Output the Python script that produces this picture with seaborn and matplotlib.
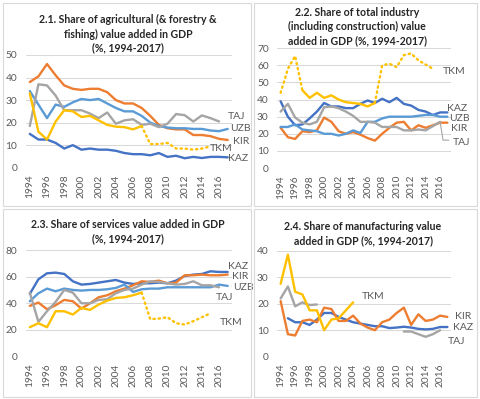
import matplotlib
matplotlib.use("Agg")
import matplotlib.pyplot as plt
import seaborn as sns
import pandas as pd
import numpy as np
from matplotlib.patches import Rectangle

sns.set_style("white")
plt.rcParams['font.family'] = ['Lato', 'DejaVu Sans']

N = None
years = list(range(1994, 2018))

# 2.1 agriculture
agr_kaz = [15, 12.5, 12.5, 11, 8.5, 10, 8, 8.5, 8, 8, 7.5, 6.5, 6, 6, 5.5, 6.5, 4.8, 5.3, 4.2, 4.8, 4.3, 4.8, 4.8, 4.6]
agr_kir = [38, 40.5, 46, 41, 36.5, 35, 34.5, 35, 35, 33.5, 30, 28.5, 28.5, 26.5, 23, 19, 17.5, 17, 17, 14.5, 14.5, 14, 12.8, 12.3]
agr_uzb = [34, 28, 22, 28, 27, 29, 30.5, 30, 30.5, 28.5, 26.5, 25, 25, 23, 20, 18.5, 17.8, 17.5, 17.5, 17.2, 17.2, 16.5, 16.2, 17.2]
agr_taj = [18.5, 37, 36.5, 32, 25.5, 25.5, 25.5, 24, 22, 24.5, 19.5, 21, 21.5, 19, 19.5, 18, 19.5, 23.8, 23.3, 20.5, 23.2, 22, 20.5, N]
agr_tkm = [33, 16, 12.5, 20.5, 25.5, 25, 22.5, 23, 21, 19, 18.2, 18, 17, 18.5, 10.5, 10.5, 11, 8.5, 8.5, 8, 8.5, 9.5, N, N]
agr_tkm_solid = (1994, 2007)

# 2.2 industry
ind_kaz = [39, 30, 25, 25.5, 29, 33, 38, 36, 36, 35, 35, 37.5, 39.5, 38, 40.5, 38.5, 41, 37.5, 36.5, 34, 33, 31, 32.5, 32.5]
ind_kir = [23.5, 18, 17, 21.5, 21, 22, 29.5, 27, 21.5, 20, 21, 19.5, 17.5, 16, 20, 23.5, 26.5, 27, 22, 25, 23.5, 25, 26.5, 26.5]
ind_uzb = [24, 24, 25.5, 22.5, 22, 21.5, 20, 20, 19, 20, 22, 20.5, 27, 27, 29, 30, 30, 30, 30, 30.5, 31, 31, 30, 30]
ind_taj = [33, 37.5, 29.5, 26.5, 25.5, 27, 35.5, 36, 35, 33, 30.5, 27, 27, 26.5, 24, 24, 24, 22, 22, 22.5, 22, 24.5, 27, N]
ind_tkm = [44, 58, 65.5, 45.5, 41, 44, 41, 42.5, 40, 38.5, 38, 37.5, 36, 38, 60, 61, 59, 66, 67, 63, 60.5, 58, N, N]
ind_tkm_solid = (1997, 2007)

# 2.3 services
srv_kaz = [47, 58, 62.5, 63, 62, 56.5, 54, 54.5, 55.5, 56.5, 57.5, 55.5, 54.5, 55, 55, 55.5, 55, 57, 60.5, 61.5, 62, 64, 63.5, 63.5]
srv_kir = [38, 40.5, 35.5, 38.5, 42.5, 41.5, 36, 40, 44.5, 46, 49, 51, 53.5, 56.5, 56, 57, 55, 55.5, 61, 61, 61.5, 61, 61, 61.5]
srv_uzb = [41.5, 47.5, 51, 49, 51, 50, 49.5, 50, 50, 50.5, 51.5, 54, 48.5, 50.5, 51, 51, 52, 52, 52, 52, 52, 52, 54, 53]
srv_taj = [48, 26, 34, 41, 50, 48, 40, 40, 42.5, 43, 47.5, 50, 51, 54, 56.5, 56, 55, 54, 54.5, 56.5, 53.5, 53.5, 52, N]
srv_tkm = [22, 25, 22, 34, 34, 31.5, 36.5, 35, 39, 42, 44, 44.5, 46, 48, 28, 28.5, 29.5, 25, 24, 26.5, 29.5, 32.5, N, N]
srv_tkm_solid = (1994, 2007)

# 2.4 manufacturing
man_kaz = [N, 14.5, 13, 13, 12, 14, 16.5, 16.5, 15, 14, 13, 12.5, 12, 11.5, 11.5, 10.8, 11, 11.3, 11, 10.5, 10.3, 10.5, 11.2, 11.2]
man_kir = [21, 8.5, 8, 13.5, 14, 13, 18.5, 18, 13.5, 13.5, 15.5, 12.5, 11, 10, 13, 14, 16.5, 18.5, 12, 16, 13.5, 14, 15.5, 15]
man_taj = [22, 26.5, 19, 20.5, 19.5, 19.7, N, N, N, N, N, N, N, N, N, N, N, 9.5, 9.5, 8.5, 7.5, 8.5, 10, N]
man_tkm = [27.5, 38.5, 24.5, 23.5, 17.5, 17.5, 10, 14, 14.5, 17.5, 20.5, N, N, N, N, N, N, N, N, N, N, N, N, N]
man_tkm_solid = (1994, 2004)

colors = {'KAZ': '#4472C4', 'KIR': '#ED7D31', 'TAJ': '#A5A5A5',
          'TKM': '#FFC000', 'UZB': '#5B9BD5'}

W, H = 480, 399
fig = plt.figure(figsize=(W / 100, H / 100), dpi=100)


def px_rect(l, t, r, b):
    return [l / W, 1 - b / H, (r - l) / W, (b - t) / H]


# panel frames
for (l, t, r, b) in [(3, 3, 251, 206), (254, 3, 477, 206), (3, 209, 251, 397), (254, 209, 477, 397)]:
    fig.patches.append(Rectangle((l / W, 1 - b / H), (r - l) / W, (b - t) / H,
                                 transform=fig.transFigure, fill=False,
                                 edgecolor='#D9D9D9', lw=0.8))


def segments(vals):
    runs, cur = [], []
    for i, v in enumerate(vals):
        if v is None:
            if cur:
                runs.append(cur)
            cur = []
        else:
            cur.append(i)
    if cur:
        runs.append(cur)
    return runs


def draw(ax, series, tkm, tkm_solid, ymax, step):
    for name, vals in series:
        for run in segments(vals):
            d = pd.DataFrame({'x': run, 'y': [vals[i] for i in run]})
            sns.lineplot(data=d, x='x', y='y', ax=ax, color=colors[name], lw=1.7)
    s0, s1 = tkm_solid[0] - 1994, tkm_solid[1] - 1994
    idx = [i for i, v in enumerate(tkm) if v is not None]
    solid = [i for i in idx if s0 <= i <= s1]
    d = pd.DataFrame({'x': solid, 'y': [tkm[i] for i in solid]})
    sns.lineplot(data=d, x='x', y='y', ax=ax, color=colors['TKM'], lw=1.7)
    pre = [i for i in idx if i <= s0]
    post = [i for i in idx if i >= s1]
    for part in (pre, post):
        if len(part) > 1:
            d = pd.DataFrame({'x': part, 'y': [tkm[i] for i in part]})
            sns.lineplot(data=d, x='x', y='y', ax=ax, color=colors['TKM'], lw=1.7,
                         dashes=False)
            ax.lines[-1].set_dashes([0.6, 1.6])
            ax.lines[-1].set_dash_capstyle('round')
    ax.set_xlim(-0.5, 23.5)
    ax.set_ylim(0, ymax)
    ax.set_yticks(np.arange(0, ymax + 1, step))
    ax.set_xticks(range(0, 24, 2))
    ax.set_xticklabels([str(y) for y in years[::2]], rotation=90)
    ax.tick_params(axis='both', length=0, labelsize=7.3, colors='#595959')
    ax.tick_params(axis='y', pad=6)
    ax.tick_params(axis='x', pad=5)
    ax.grid(axis='y', color='#D9D9D9', lw=0.75)
    ax.set_axisbelow(True)
    for s in ax.spines.values():
        s.set_visible(False)
    ax.set_xlabel('')
    ax.set_ylabel('')


def label(ax, x, y, txt):
    ax.text(x, y, txt, ha='left', va='center', fontsize=7.5, color='#595959', clip_on=False)


ax1 = fig.add_axes(px_rect(25.5, 55, 232, 167.7))
draw(ax1, [('KAZ', agr_kaz), ('KIR', agr_kir), ('UZB', agr_uzb), ('TAJ', agr_taj)],
     agr_tkm, agr_tkm_solid, 50, 10)
label(ax1, 23.0, 22.5, 'TAJ')
label(ax1, 23.25, 17.2, 'UZB')
label(ax1, 23.6, 11.8, 'KIR')
label(ax1, 20.9, 8.7, 'TKM')
label(ax1, 23.0, 3.9, 'KAZ')

ax2 = fig.add_axes(px_rect(277, 48.3, 451, 168))
draw(ax2, [('KAZ', ind_kaz), ('KIR', ind_kir), ('UZB', ind_uzb), ('TAJ', ind_taj)],
     ind_tkm, ind_tkm_solid, 70, 10)
label(ax2, 22.4, 56.2, 'TKM')
label(ax2, 22.95, 35, 'KAZ')
label(ax2, 23.2, 29.2, 'UZB')
label(ax2, 23.5, 23.3, 'KIR')
label(ax2, 23.8, 15.2, 'TAJ')
ax2.plot([22, 22.4, 23.2], [27, 16.3, 16.3], color='#A5A5A5', lw=0.8, clip_on=False)

ax3 = fig.add_axes(px_rect(25.5, 250, 232, 356.5))
draw(ax3, [('KAZ', srv_kaz), ('KIR', srv_kir), ('UZB', srv_uzb), ('TAJ', srv_taj)],
     srv_tkm, srv_tkm_solid, 80, 20)
label(ax3, 23.0, 67.9, 'KAZ')
label(ax3, 23.5, 60.4, 'KIR')
label(ax3, 23.6, 52.1, 'UZB')
label(ax3, 21.6, 44.6, 'TAJ')
label(ax3, 22.1, 25.9, 'TKM')

ax4 = fig.add_axes(px_rect(277, 250.7, 451, 356.7))
draw(ax4, [('KAZ', man_kaz), ('KIR', man_kir), ('TAJ', man_taj)],
     man_tkm, man_tkm_solid, 40, 10)
label(ax4, 11.2, 22.6, 'TKM')
label(ax4, 24.1, 15.0, 'KIR')
label(ax4, 23.8, 11.2, 'KAZ')
label(ax4, 23.1, 5.7, 'TAJ')

tkw = dict(ha='center', va='center', fontsize=7.6, fontweight='bold', color='#262626',
           linespacing=1.35)
fig.text(128 / W, 1 - 34 / H, '2.1. Share of agricultural (& forestry &\nfishing) value added in GDP\n(%, 1994-2017)', **tkw)
fig.text(357 / W, 1 - 26.7 / H, '2.2. Share of total industry\n(including construction) value\nadded in GDP (%, 1994-2017)', **tkw)
fig.text(128 / W, 1 - 231.5 / H, '2.3. Share of services value added in GDP\n(%, 1994-2017)', **tkw)
fig.text(363 / W, 1 - 233.3 / H, '2.4. Share of manufacturing value\nadded in GDP (%, 1994-2017)', **tkw)

fig.savefig('out.png', dpi=100)
